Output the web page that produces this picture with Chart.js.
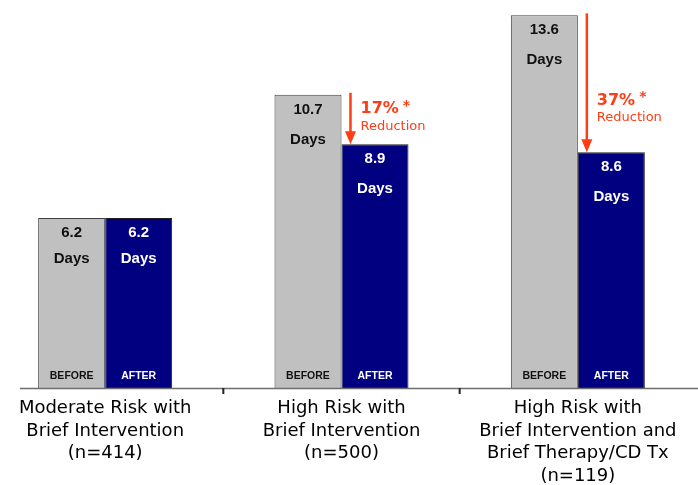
<!DOCTYPE html>
<html>
<head>
<meta charset="utf-8">
<script src="https://cdn.jsdelivr.net/npm/chart.js@4.4.1/dist/chart.umd.min.js"></script>
<style>
  body { margin: 0; background: #fff; overflow: hidden; }
  #wrap { position: absolute; left: -13px; top: 0; width: 711px; height: 485px; }
</style>
</head>
<body>
<div id="wrap"><canvas id="stayChart"></canvas></div>
<script>
// DATA
const groups = [
  ['Moderate Risk with', 'Brief Intervention', '(n=414)'],
  ['High Risk with', 'Brief Intervention', '(n=500)'],
  ['High Risk with', 'Brief Intervention and', 'Brief Therapy/CD Tx', '(n=119)']
];
const beforeDays = [6.2, 10.7, 13.6];
const afterDays = [6.2, 8.9, 8.6];
const reductionLabels = ['', '17%', '37%'];
// DATA

const RED = '#ff3c14';

// labels, arrows, axis line
const overlay = {
  id: 'overlay',
  afterDatasetsDraw(chart) {
    const ctx = chart.ctx;
    const before = chart.getDatasetMeta(0).data;
    const after = chart.getDatasetMeta(1).data;
    const bottom = chart.chartArea.bottom;

    ctx.save();
    ctx.textAlign = 'center';
    ctx.textBaseline = 'middle';
    [before, after].forEach((bars, s) => {
      bars.forEach((bar, i) => {
        const v = s === 0 ? beforeDays[i] : afterDays[i];
        const gap = i === 0 ? 26 : 30;
        ctx.fillStyle = s === 0 ? '#111' : '#fff';
        ctx.font = 'bold 15px "Liberation Sans", Arial, sans-serif';
        ctx.fillText(v.toFixed(1), bar.x, bar.y + 15);
        ctx.fillText('Days', bar.x, bar.y + 15 + gap);
        ctx.font = 'bold 10.5px "Liberation Sans", Arial, sans-serif';
        ctx.fillText(s === 0 ? 'BEFORE' : 'AFTER', bar.x, bottom - 12);
      });
    });

    // reduction arrows
    const textOffsets = [0, -35, -52];
    reductionLabels.forEach((lab, i) => {
      if (!lab) return;
      const b = before[i], a = after[i];
      const ax = a.x - a.width / 2 + 9;
      const top = b.y - 2;
      const tip = a.y;
      ctx.strokeStyle = RED;
      ctx.fillStyle = RED;
      ctx.lineWidth = 2.5;
      ctx.beginPath();
      ctx.moveTo(ax, top);
      ctx.lineTo(ax, tip - 12);
      ctx.stroke();
      ctx.beginPath();
      ctx.moveTo(ax - 5.5, tip - 13);
      ctx.lineTo(ax + 5.5, tip - 13);
      ctx.lineTo(ax, tip);
      ctx.closePath();
      ctx.fill();

      const tx = ax + 10;
      const ty = tip + textOffsets[i];
      ctx.textAlign = 'left';
      ctx.font = 'bold 16px "DejaVu Sans", Verdana, sans-serif';
      ctx.fillText(lab, tx, ty);
      const w = ctx.measureText(lab).width;
      ctx.font = 'bold 14px "DejaVu Sans", Verdana, sans-serif';
      ctx.fillText('*', tx + w + 4, ty - 3);
      ctx.font = '13px "DejaVu Sans", Verdana, sans-serif';
      ctx.fillText('Reduction', tx, ty + 17);
    });

    // baseline and group ticks
    ctx.strokeStyle = '#6e6e6e';
    ctx.lineWidth = 1.5;
    ctx.beginPath();
    ctx.moveTo(33, bottom + 0.5);
    ctx.lineTo(chart.width, bottom + 0.5);
    ctx.stroke();
    const xs = chart.scales.x;
    ctx.strokeStyle = '#222';
    ctx.lineWidth = 2;
    for (let i = 1; i < groups.length; i++) {
      const px = (xs.getPixelForValue(i - 1) + xs.getPixelForValue(i)) / 2;
      ctx.beginPath();
      ctx.moveTo(px, bottom);
      ctx.lineTo(px, bottom + 6);
      ctx.stroke();
    }
    ctx.restore();
  }
};

new Chart(document.getElementById('stayChart'), {
  type: 'bar',
  data: {
    labels: groups,
    datasets: [
      {
        label: 'Before',
        data: beforeDays,
        backgroundColor: '#c0c0c0',
        borderColor: '#404040',
        borderWidth: 1,
        categoryPercentage: 0.567,
        barPercentage: 1.0
      },
      {
        label: 'After',
        data: afterDays,
        backgroundColor: '#000080',
        borderColor: '#202020',
        borderWidth: 1,
        categoryPercentage: 0.567,
        barPercentage: 1.0
      }
    ]
  },
  options: {
    responsive: true,
    maintainAspectRatio: false,
    animation: false,
    layout: { padding: { left: 0, right: 2, top: 0, bottom: 0 } },
    plugins: {
      legend: { display: false },
      tooltip: { enabled: false }
    },
    scales: {
      x: {
        grid: { display: false, drawTicks: false },
        border: { display: false },
        ticks: {
          color: '#000',
          padding: 9,
          maxRotation: 0,
          autoSkip: false,
          font: { family: '"DejaVu Sans", Verdana, sans-serif', size: 18, lineHeight: 1.26 }
        },
        afterFit(scale) { scale.height = 97; }
      },
      y: {
        display: false,
        min: 0,
        max: 14.16
      }
    }
  },
  plugins: [overlay]
});
</script>
</body>
</html>
